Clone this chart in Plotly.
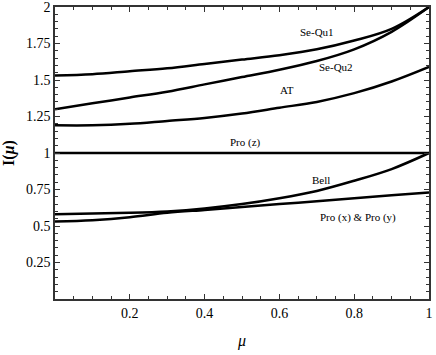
import plotly.graph_objects as go

mu = [0.0, 0.1, 0.2, 0.3, 0.4, 0.5, 0.6, 0.7, 0.8, 0.9, 1.0]
se_qu1 = [1.53, 1.54, 1.56, 1.58, 1.61, 1.64, 1.67, 1.71, 1.77, 1.85, 2.0]
se_qu2 = [1.30, 1.34, 1.38, 1.42, 1.47, 1.52, 1.57, 1.63, 1.71, 1.83, 2.0]
at = [1.19, 1.19, 1.20, 1.22, 1.24, 1.27, 1.31, 1.35, 1.41, 1.49, 1.59]
pro_z = [1.0] * 11
bell = [0.58, 0.585, 0.59, 0.60, 0.62, 0.65, 0.69, 0.74, 0.81, 0.89, 1.0]
pro_xy = [0.53, 0.54, 0.56, 0.59, 0.61, 0.63, 0.65, 0.67, 0.69, 0.71, 0.73]

labels = ["Se-Qu1", "Se-Qu2", "AT", "Pro (z)", "Bell", "Pro (x) & Pro (y)"]
label_x = [0.70, 0.75, 0.62, 0.51, 0.71, 0.81]
label_y = [1.83, 1.59, 1.43, 1.07, 0.815, 0.555]

xticks = [0.2, 0.4, 0.6, 0.8, 1.0]
xticktext = ["0.2", "0.4", "0.6", "0.8", "1"]
yticks = [0.25, 0.5, 0.75, 1.0, 1.25, 1.5, 1.75, 2.0]
yticktext = ["0.25", "0.5", "0.75", "1", "1.25", "1.5", "1.75", "2"]

SERIF = "Liberation Serif, Times New Roman, serif"

fig = go.Figure()
for ys in [se_qu1, se_qu2, at, pro_z, bell, pro_xy]:
    fig.add_trace(go.Scatter(x=mu, y=ys, mode="lines", line=dict(color="black", width=2.5, shape="spline"),
                             showlegend=False, hoverinfo="skip", cliponaxis=False))

for t, x, y in zip(labels, label_x, label_y):
    fig.add_annotation(x=x, y=y, text=t, showarrow=False,
                       font=dict(family=SERIF, size=11, color="black"))

axis_common = dict(showgrid=False, zeroline=False, showline=True, linecolor="#333", linewidth=1.5,
                   mirror="ticks", ticks="inside", ticklen=5, tickcolor="#333", automargin=False,
                   ticklabeloverflow="allow",
                   tickfont=dict(family=SERIF, size=14, color="black"))

fig.update_xaxes(range=[0, 1.0], tickvals=xticks, ticktext=xticktext,
                 minor=dict(ticks="inside", dtick=0.05, ticklen=3, tickcolor="#333"),
                 title=dict(text="<i>μ</i>", font=dict(family=SERIF, size=16, color="black")),
                 **axis_common)
fig.update_yaxes(range=[0, 2.0], tickvals=yticks, ticktext=yticktext,
                 minor=dict(ticks="inside", dtick=0.05, ticklen=3, tickcolor="#333"),
                 title=dict(text="<b>I(<i>μ</i>)</b>", font=dict(family=SERIF, size=16, color="black")),
                 **axis_common)

fig.update_layout(width=436, height=355, plot_bgcolor="white", paper_bgcolor="white",
                  margin=dict(l=55, r=7, t=7, b=56))

# page body has a default 8px margin, drop it so the figure fills the window
fig.write_html("out.html", config={"displayModeBar": False},
               post_script="document.body.style.margin='0';")
